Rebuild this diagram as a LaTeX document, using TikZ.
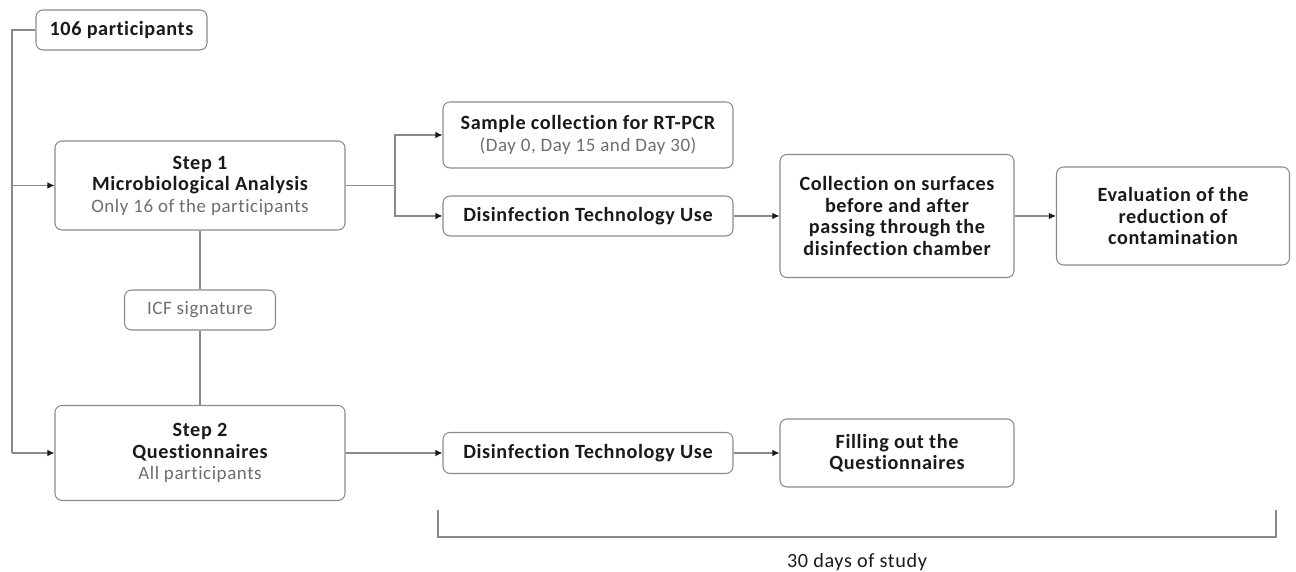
\documentclass[tikz,border=0pt]{standalone}
\usepackage{fontspec}
\setmainfont{Carlito}[LetterSpace=3,Ligatures=NoCommon]
\usetikzlibrary{arrows.meta,positioning,calc}
\definecolor{ink}{HTML}{1A1A1A}
\definecolor{ink2}{HTML}{6E6E6E}
\definecolor{line}{HTML}{8A8A8A}
\newcommand{\subtxt}[1]{{\fontsize{10.8}{12.2}\selectfont\mdseries\color{ink2}#1}}
\tikzset{
  base/.style={rounded corners=4pt, align=center, inner sep=2pt, font=\fontsize{11.5}{12.2}\selectfont\bfseries, text=ink},
  card/.style={base, draw=line, line width=0.6pt, minimum width=#1},
  card/.default=5.8cm,
  arr/.style={-{Latex[length=1.4mm,width=1.3mm,color=ink]}, line width=0.6pt, draw=line},
  link/.style={line width=0.6pt, draw=line},
}

\begin{document}
\begin{tikzpicture}
    \useasboundingbox (0,0) rectangle (25.92,11.44);
    \node[card=3.42cm, minimum height=0.8cm] (part) at (2.43,10.84) {106 participants};
    \node[card, minimum height=1.78cm] (step1) at (4.0,7.73) {Step 1\\Microbiological Analysis\\\subtxt{Only 16 of the participants}};
    \node[card=3.02cm, minimum height=0.8cm] (icf) at (4.0,5.24) {\subtxt{ICF signature}};
    \node[card, minimum height=1.9cm] (step2) at (4.0,2.38) {Step 2\\Questionnaires\\\subtxt{All participants}};
    \node[card, minimum height=1.32cm] (sample) at (11.76,8.74) {Sample collection for RT-PCR\\\subtxt{(Day 0, Day 15 and Day 30)}};
    \node[card, minimum height=0.8cm] (dis1) at (11.76,7.12) {Disinfection Technology Use};
    \node[card=4.68cm, minimum height=2.46cm] (coll) at (17.94,7.12) {Collection on surfaces\\before and after\\passing through the\\disinfection chamber};
    \node[card=4.66cm, minimum height=1.96cm] (eval) at (23.46,7.12) {Evaluation of the\\reduction of\\contamination};
    \node[card, minimum height=0.82cm] (dis2) at (11.76,2.38) {Disinfection Technology Use};
    \node[card=4.68cm, minimum height=1.36cm] (fill) at (17.94,2.38) {Filling out the\\Questionnaires};
    \coordinate (trunk) at (0.24,10.84);
    \coordinate (split) at (7.9,7.73);
    % left trunk
    \draw[link] (part.west) -- (trunk) -- (trunk |- step2.west);
    \draw[arr] (trunk |- step2.west) -- (step2.west);
    \draw[arr] (trunk |- step1.west) -- (step1.west);
    \draw[link] (step1) -- (icf); \draw[link] (icf) -- (step2);
    % branches
    \draw[link] (step1.east) -- (split);
    \draw[arr] (split) |- (sample.west);
    \draw[arr] (split) |- (dis1.west);
    \draw[arr] (dis1) -- (coll); \draw[arr] (coll) -- (eval);
    \draw[arr] (step2) -- (dis2); \draw[arr] (dis2) -- (fill);
    % bracket
    \coordinate (bl) at (8.76,1.24);
    \coordinate (br) at (25.52,1.24);
    \draw[link] (bl) -- ++(0,-0.54) -| (br);
    \node[base, font=\fontsize{11.5}{12.2}\selectfont, text=ink] (days) at (17.14,0.2) {30 days of study};
  \end{tikzpicture}
\end{document}
